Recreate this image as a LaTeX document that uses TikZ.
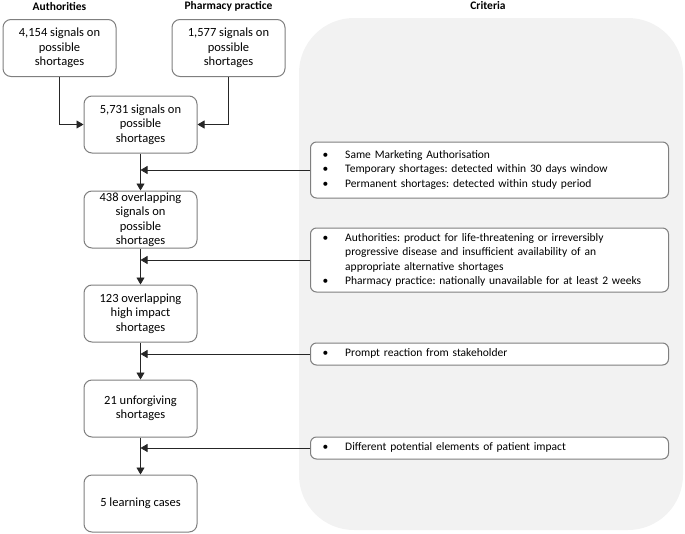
\documentclass[tikz,border=0pt]{standalone}
\usepackage{fontspec}
\setmainfont{Carlito}
\usetikzlibrary{arrows.meta,positioning}
\definecolor{boxgray}{HTML}{7F7F7F}
\definecolor{bggray}{HTML}{F2F2F2}
\frenchspacing

\begin{document}
\begin{tikzpicture}[
x=1pt, y=-1pt, font=\fontsize{12.5}{14.5}\selectfont,
stage/.style={
    draw=boxgray, line width=1pt, rounded corners=8pt, fill=white,
    minimum width=113pt, minimum height=57pt, align=center, inner sep=1pt},
crit/.style={
    draw=boxgray, line width=1pt, rounded corners=6pt, fill=white,
    font=\fontsize{11.5}{14.5}\selectfont,
    text width=334pt, inner xsep=12pt, inner ysep=2pt, anchor=west, align=left},
head/.style={font=\fontsize{11.5}{14}\selectfont\bfseries},
flow/.style={draw=black!85, line width=0.8pt, -{Triangle[length=7pt,width=8pt]}},
]
\useasboundingbox (0,0) rectangle (685,533);

% criteria panel
\fill[bggray, rounded corners=55pt] (299,18) rectangle (683,530);

\node[head] (hA) at (59.5,6) {Authorities};
\node[head] (hP) at (228.5,6) {Pharmacy practice};
\node[head] (hC) at (488,6) {Criteria};

\node[stage] (A) at (59.5,48) {4,154 signals on\\possible\\shortages};
\node[stage] (P) at (228.5,48) {1,577 signals on\\possible\\shortages};
\node[stage] (S) at (140.5,124.5) {5,731 signals on\\possible\\shortages};
\node[stage, below=37pt of S] (O) {438 overlapping\\signals on\\possible\\shortages};
\node[stage, below=36pt of O] (H) {123 overlapping\\high impact\\shortages};
\node[stage, below=37pt of H] (U) {21 unforgiving\\shortages};
\node[stage, below=37pt of U] (L) {5 learning cases};

\node[crit, minimum height=56pt] (C1) at (310,170) {%
  \begin{tabular}{@{}l@{\hspace{17pt}}l@{}}
  \textbullet & Same Marketing Authorisation\\
  \textbullet & Temporary shortages: detected within 30 days window\\
  \textbullet & Permanent shortages: detected within study period
  \end{tabular}};
\node[crit, minimum height=64pt] (C2) at (310,260) {%
  \begin{tabular}{@{}l@{\hspace{17pt}}l@{}}
  \textbullet & Authorities: product for life-threatening or irreversibly\\
              & progressive disease and insufficient availability of an\\
              & appropriate alternative shortages\\
  \textbullet & Pharmacy practice: nationally unavailable for at least 2 weeks
  \end{tabular}};
\node[crit, minimum height=22pt] (C3) at (310,354) {%
  \begin{tabular}{@{}l@{\hspace{17pt}}l@{}}
  \textbullet & Prompt reaction from stakeholder
  \end{tabular}};
\node[crit, minimum height=22pt] (C4) at (310,448) {%
  \begin{tabular}{@{}l@{\hspace{17pt}}l@{}}
  \textbullet & Different potential elements of patient impact
  \end{tabular}};

\draw[flow] (A.south) |- (S.west);
\draw[flow] (P.south) |- (S.east);
\draw[flow] (S) -- (O);
\draw[flow] (O) -- (H);
\draw[flow] (H) -- (U);
\draw[flow] (U) -- (L);

\draw[flow] (C1.west) -- (C1.west -| S.south);
\draw[flow] (C2.west) -- (C2.west -| S.south);
\draw[flow] (C3.west) -- (C3.west -| S.south);
\draw[flow] (C4.west) -- (C4.west -| S.south);

\end{tikzpicture}
\end{document}
